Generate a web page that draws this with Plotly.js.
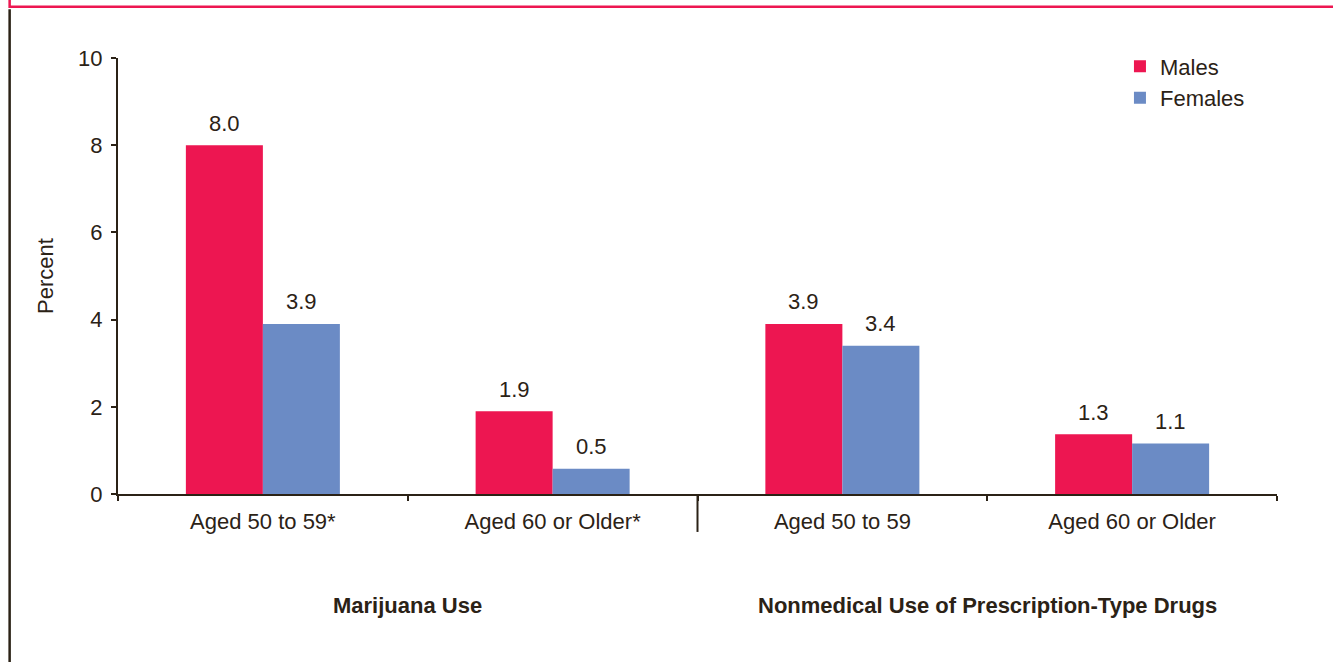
<!DOCTYPE html>
<html>
<head>
<meta charset="utf-8">
<script src="https://cdn.plot.ly/plotly-3.0.1.min.js"></script>
<style>
  html, body { margin: 0; padding: 0; background: #ffffff; }
  #chart { width: 1333px; height: 662px; }
</style>
</head>
<body>
<div id="chart"></div>
<script>
// ---- data ----
const categories = ['Aged 50 to 59*', 'Aged 60 or Older*', 'Aged 50 to 59', 'Aged 60 or Older'];
const groupNames = ['Marijuana Use', 'Nonmedical Use of Prescription-Type Drugs'];
const groupCenters = [0.5, 2.5];          // category-index midpoints of each pair
const males = [8.0, 1.9, 3.9, 1.37];
const females = [3.9, 0.58, 3.4, 1.16];
const maleLabels = ['8.0', '1.9', '3.9', '1.3'];
const femaleLabels = ['3.9', '0.5', '3.4', '1.1'];
const yTicks = [0, 2, 4, 6, 8, 10];

// ---- styles ----
const MALE = '#ED1651';
const FEMALE = '#6B8BC5';
const INK = '#2B2216';
const FONT = '"Liberation Sans", Arial, Helvetica, sans-serif';
const FS = 22;
const BARGAP = 0.4685;
const half = (1 - BARGAP) / 4; // offset of each bar centre from category centre

const traces = [
  { type: 'bar', name: 'Males', x: categories, y: males, marker: { color: MALE }, hoverinfo: 'skip' },
  { type: 'bar', name: 'Females', x: categories, y: females, marker: { color: FEMALE }, hoverinfo: 'skip' }
];

const annotations = [];
categories.forEach((c, i) => {
  annotations.push({ xref: 'x', yref: 'y', x: i - half, y: males[i], text: maleLabels[i],
    showarrow: false, yanchor: 'middle', yshift: 22, font: { size: FS, color: INK, family: FONT } });
  annotations.push({ xref: 'x', yref: 'y', x: i + half, y: females[i], text: femaleLabels[i],
    showarrow: false, yanchor: 'middle', yshift: 22, font: { size: FS, color: INK, family: FONT } });
});
groupNames.forEach((g, k) => {
  annotations.push({ xref: 'x', yref: 'paper', x: groupCenters[k], y: -0.255, text: '<b>' + g + '</b>',
    showarrow: false, xanchor: 'center', yanchor: 'middle', font: { size: FS, color: INK, family: FONT } });
});

const shapes = [
  // long separator tick between the two groups
  { type: 'line', xref: 'x', yref: 'paper', x0: 1.5, x1: 1.5, y0: 0, y1: -0.087,
    line: { color: INK, width: 2 } },
  // page frame: black left rule
  { type: 'line', xref: 'paper', yref: 'paper', x0: -0.0935, x1: -0.0935, y0: 1.112, y1: -0.40,
    line: { color: INK, width: 2.5 } },
  // pink frame top
  { type: 'path', xref: 'paper', yref: 'paper',
    path: 'M -0.0935 1.15 L -0.0935 1.1175 L 1.06 1.1175',
    line: { color: MALE, width: 2.5 } }
];

const layout = {
  width: 1333, height: 662,
  margin: { l: 118, r: 56, t: 58, b: 168, pad: 0 },
  paper_bgcolor: '#ffffff', plot_bgcolor: '#ffffff',
  font: { family: FONT, size: FS, color: INK },
  barmode: 'group', bargap: BARGAP, bargroupgap: 0,
  showlegend: true,
  legend: { x: 0.8645, y: 1.029, xanchor: 'left', yanchor: 'top',
    font: { size: FS, color: INK, family: FONT }, bgcolor: 'rgba(0,0,0,0)', tracegroupgap: 0 },
  xaxis: {
    type: 'category', range: [-0.5, 3.5], tickson: 'boundaries',
    ticks: 'outside', ticklen: 5, tickwidth: 2, tickcolor: INK,
    showline: true, linecolor: INK, linewidth: 2, showgrid: false, zeroline: false,
    tickfont: { size: FS, color: INK, family: FONT }, ticklabelstandoff: 7, fixedrange: true
  },
  yaxis: {
    range: [0, 10], tickvals: yTicks, ticktext: yTicks.map(String),
    ticks: 'outside', ticklen: 5, tickwidth: 2, tickcolor: INK,
    showline: true, linecolor: INK, linewidth: 2, showgrid: false, zeroline: false,
    tickfont: { size: FS, color: INK, family: FONT }, ticklabelstandoff: 4,
    title: { text: 'Percent', font: { size: FS, color: INK, family: FONT }, standoff: 18 },
    fixedrange: true
  },
  annotations: annotations,
  shapes: shapes
};

Plotly.newPlot('chart', traces, layout, { displayModeBar: false, staticPlot: true });
</script>
</body>
</html>
